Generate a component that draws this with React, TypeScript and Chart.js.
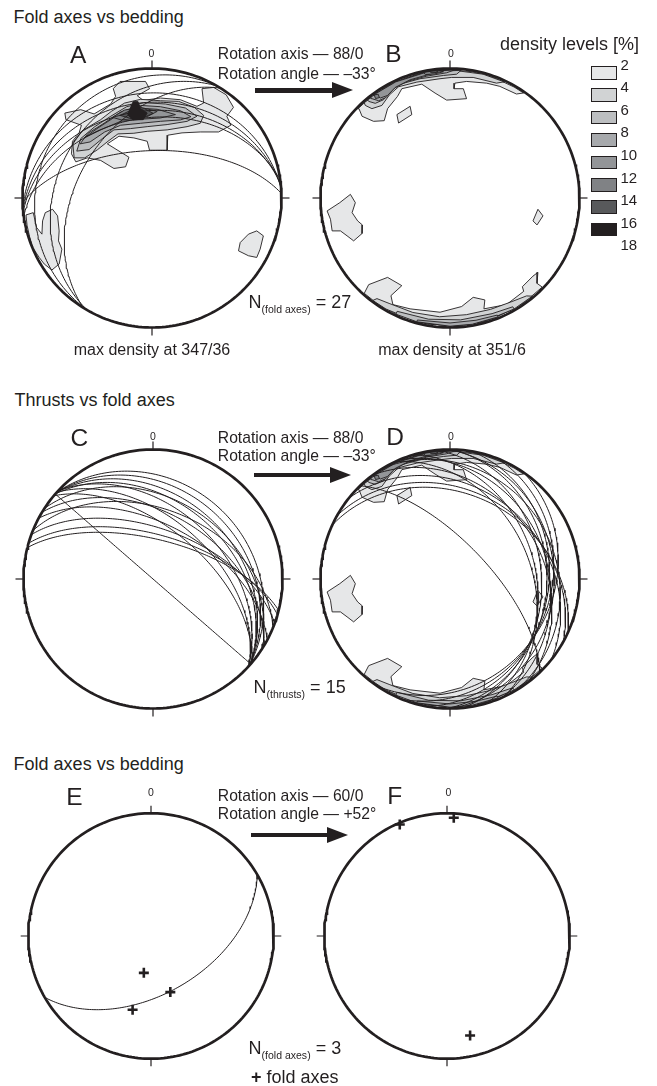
import React, { useEffect, useRef } from 'react';
import { Chart, registerables } from 'chart.js';

Chart.register(...registerables);

type P = [number, number];
type V = [number, number, number];
type Poly = { band: number; pts: P[] };

const FONT = '"Liberation Sans", Arial, Helvetica, sans-serif';
const INK = '#231f20';

// ---------------- data ----------------
const DENSITY_LABELS = ['2', '4', '6', '8', '10', '12', '14', '16', '18'];
const DENSITY_COLORS = ['#e6e7e8', '#d1d3d4', '#bcbec0', '#a7a9ac', '#939598', '#808285', '#58595b', '#231f20'];

// rotations quoted in the figure: axis trend/plunge, angle
const ROTATION_AB = { trend: 88, plunge: 0, angle: -33 };
const ROTATION_EF = { trend: 60, plunge: 0, angle: 52 };

// bedding great circles in A (dip direction, dip)
const BEDDING_A: P[] = [[358, 60], [356, 20], [355, 27], [354, 33], [352, 38], [300, 12], [300, 27], [302, 42]];

// thrust planes in C (dip direction, dip)
const THRUSTS_C: P[] = [
  [41, 90], [42, 26], [42, 31], [42, 36], [41, 40], [43, 45], [42, 52], [40, 58],
  [31, 48], [28, 55], [22, 45], [20, 58], [16, 62], [14, 65], [33, 38],
];

// bedding and fold axes in E
const BEDDING_E: P[] = [[150, 51]];
const FOLD_AXES_E: P[] = [[191, 65], [161, 50], [194, 38]]; // trend, plunge

// density contours of fold axes in A (east, north, % of radius)
const A_DENSITY: Poly[] = [
  { band: 0, pts: [[-29.9, 84.4], [-24.7, 90.0], [-5.0, 90.0], [-1.9, 84.4], [-11.4, 79.0], [-6.8, 75.4], [6.5, 77.2], [21.9, 75.9], [34.7, 70.8], [39.9, 73.3], [38.6, 84.4], [47.6, 85.4], [57.3, 79.7], [62.9, 70.0], [57.8, 63.1], [60.9, 56.2], [51.4, 51.0], [37.3, 51.0], [23.2, 50.3], [12.2, 48.5], [11.7, 36.9], [-1.9, 36.9], [-3.7, 43.8], [-14.0, 46.4], [-25.5, 47.7], [-34.5, 41.8], [-17.8, 31.5], [-20.4, 24.1], [-29.4, 22.8], [-39.6, 29.0], [-49.9, 31.0], [-58.8, 27.9], [-62.2, 34.1], [-61.4, 43.8], [-56.3, 50.3], [-54.5, 56.2], [-66.5, 60.5], [-67.3, 65.6], [-55.0, 68.2], [-44.7, 64.9], [-31.9, 72.6], [-28.1, 78.5]] },
  { band: 0, pts: [[-97.3, -13.1], [-91.7, -11.3], [-89.1, -22.8], [-85.0, -27.9], [-84.5, -17.7], [-82.4, -11.3], [-76.8, -8.7], [-72.9, -13.8], [-71.7, -25.4], [-72.2, -33.1], [-69.6, -39.5], [-71.7, -51.0], [-77.3, -55.6], [-83.2, -51.0], [-87.1, -45.9], [-92.2, -38.2], [-94.5, -30.0], [-96.5, -21.0]] },
  { band: 0, pts: [[68.1, -34.4], [74.5, -27.9], [80.9, -25.4], [86.0, -29.2], [83.5, -39.5], [80.9, -45.9], [74.5, -44.6], [66.8, -40.8]] },
  { band: 1, pts: [[-60.1, 31.0], [-61.2, 42.6], [-53.7, 52.1], [-39.6, 60.5], [-31.4, 66.9], [-21.2, 73.3], [-8.8, 76.2], [6.5, 75.1], [20.6, 74.6], [32.7, 70.0], [39.9, 63.8], [37.3, 57.7], [27.1, 55.1], [11.7, 52.6], [-3.7, 51.5], [-14.0, 50.0], [-26.3, 49.5], [-34.0, 43.8], [-42.2, 37.2], [-51.9, 31.0]] },
  { band: 2, pts: [[-58.1, 36.2], [-55.0, 45.9], [-44.2, 55.1], [-31.9, 63.1], [-19.6, 70.5], [-6.3, 73.6], [10.4, 72.6], [25.8, 69.5], [34.7, 63.1], [27.1, 59.2], [11.7, 56.7], [-3.7, 55.1], [-16.5, 53.6], [-29.4, 52.6], [-38.3, 45.9], [-48.6, 37.4]] },
  { band: 3, pts: [[-55.5, 41.8], [-49.4, 50.0], [-37.1, 57.7], [-24.2, 66.4], [-8.8, 71.5], [6.5, 70.5], [21.9, 67.4], [30.1, 62.8], [21.9, 60.3], [6.5, 59.2], [-8.8, 57.7], [-24.2, 56.2], [-36.5, 51.0], [-47.8, 43.3]] },
  { band: 4, pts: [[-52.4, 46.4], [-41.7, 54.1], [-26.8, 63.8], [-11.4, 69.5], [4.0, 68.5], [18.1, 64.4], [6.5, 61.8], [-8.8, 60.8], [-24.2, 59.2], [-39.6, 52.6]] },
  { band: 5, pts: [[-30.6, 62.3], [-21.2, 67.9], [-8.8, 70.0], [4.0, 66.9], [-3.7, 62.8], [-14.0, 61.3], [-23.7, 60.3]] },
  { band: 6, pts: [[-24.7, 63.8], [-16.0, 67.9], [-5.8, 69.0], [0.9, 65.4], [-6.3, 62.3], [-16.0, 61.3]] },
  { band: 7, pts: [[-17.8, 66.9], [-14.5, 74.6], [-10.9, 74.6], [-8.8, 69.0], [-3.7, 65.6], [-6.8, 60.5], [-14.5, 60.3], [-18.6, 64.1]] },
];

// density contours of fold axes after rotation (B and D)
const B_DENSITY: Poly[] = [
  { band: 0, pts: [[-71.2, 68.8], [-63.6, 75.8], [-49.5, 85.7], [-33.9, 93.0], [-17.2, 97.5], [0, 99], [17.2, 97.5], [33.9, 93.0], [49.5, 85.7], [56.8, 81.1], [51.3, 80.3], [38.5, 86.2], [28.2, 88.7], [12.8, 90.0], [3.8, 88.7], [3.1, 84.4], [10.3, 84.4], [12.8, 76.7], [-2.6, 75.6], [-11.5, 81.0], [-21.8, 87.9], [-37.2, 84.4], [-40.5, 78.5], [-48.2, 69.0], [-50.8, 59.7], [-59.0, 59.2], [-67.9, 63.1], [-70.3, 69.0]] },
  { band: 0, pts: [[-62.8, -66.9], [-48.2, -61.3], [-37.2, -67.7], [-45.6, -75.4], [-44.1, -82.3], [-30.8, -85.6], [-7.7, -88.2], [9.0, -83.8], [17.9, -76.7], [26.9, -78.7], [26.2, -85.6], [43.6, -82.3], [56.9, -72.1], [55.9, -68.5], [64.1, -60.3], [67.9, -57.4], [67.2, -65.9], [71.2, -68.8], [56.8, -81.1], [33.9, -93.0], [8.6, -98.6], [-17.2, -97.5], [-41.8, -89.7], [-56.8, -81.1], [-66.2, -73.6]] },
  { band: 0, pts: [[-94.9, -10.0], [-85.1, -3.6], [-76.9, 2.8], [-73.1, -3.6], [-75.6, -11.3], [-71.3, -17.7], [-67.7, -20.8], [-67.9, -27.4], [-74.4, -33.1], [-79.5, -29.2], [-84.6, -25.4], [-91.0, -25.4], [-92.3, -16.4]] },
  { band: 0, pts: [[64.1, -17.7], [67.9, -8.7], [71.8, -13.8], [67.2, -20.8]] },
  { band: 0, pts: [[-41.0, 64.4], [-30.8, 70.8], [-29.5, 64.4], [-39.7, 57.9]] },
  { band: 1, pts: [[-66.2, 73.6], [-49.5, 85.7], [-25.6, 95.6], [0, 99], [25.6, 95.6], [41.8, 89.7], [35.9, 88.7], [17.9, 93.1], [1.3, 93.1], [-7.7, 92.1], [-25.6, 89.5], [-39.7, 85.9], [-46.7, 79.7], [-52.6, 71.5], [-60.3, 69.0], [-65.4, 71.5]] },
  { band: 1, pts: [[63.6, -75.8], [49.5, -85.7], [25.6, -95.6], [0, -99], [-25.6, -95.6], [-49.5, -85.7], [-59.6, -79.1], [-56.4, -77.7], [-47.0, -81.4], [-28.7, -88.4], [-8.0, -91.7], [12.7, -90.1], [31.3, -86.0], [46.5, -80.5], [59.1, -75.6]] },
  { band: 2, pts: [[-63.6, 75.8], [-41.8, 89.7], [-17.2, 97.5], [8.6, 98.6], [5.1, 95.6], [-5.1, 94.6], [-23.1, 92.1], [-38.5, 87.9], [-46.2, 82.8], [-51.3, 75.9], [-57.7, 73.1], [-62.8, 74.6]] },
  { band: 2, pts: [[49.5, -85.7], [25.6, -95.6], [0, -99], [-25.6, -95.6], [-41.8, -89.7], [-40.8, -87.5], [-16.5, -93.6], [8.2, -94.1], [32.5, -89.3], [48.5, -84.0]] },
  { band: 3, pts: [[-61.0, 78.0], [-41.8, 89.7], [-17.2, 97.5], [3.5, 98.9], [-2.6, 96.7], [-17.9, 94.1], [-33.3, 90.0], [-43.6, 84.4], [-49.2, 77.7], [-55.1, 75.1], [-60.3, 76.7]] },
  { band: 3, pts: [[37.1, -91.8], [17.2, -97.5], [0, -99], [-25.6, -95.6], [-25.2, -94.2], [0, -96.5], [20.1, -94.4], [36.5, -90.4]] },
  { band: 4, pts: [[-58.2, 80.1], [-41.8, 89.7], [-17.2, 97.5], [-3.5, 98.9], [-12.8, 96.4], [-30.8, 91.3], [-42.3, 85.4], [-48.2, 79.2], [-53.8, 77.2]] },
  { band: 5, pts: [[-20.5, 97.0], [-10.3, 98.5], [-5.0, 97.5], [-12.0, 95.8], [-19.0, 95.3]] },
  { band: 5, pts: [[-58.5, 79.5], [-55.5, 80.2], [-54.5, 77.5], [-57.5, 76.8]] },
  { band: 6, pts: [[-16, 97.8], [-11, 98.4], [-9, 97.2], [-14, 96.6]] },
];

// ---------------- geometry helpers ----------------
const deg = Math.PI / 180;
const R_PX = 129.5;
const SIZE = 290;
const SPAN = SIZE / 2 / R_PX;
const TICK = 8 / R_PX;

function lineVec(trend: number, plunge: number): V {
  return [Math.cos(plunge * deg) * Math.cos(trend * deg), Math.cos(plunge * deg) * Math.sin(trend * deg), Math.sin(plunge * deg)];
}
function project(v: V) {
  let [n, e, d] = v;
  if (d < 0) { n = -n; e = -e; d = -d; }
  const k = 1 / Math.sqrt(1 + d);
  return { x: e * k, y: n * k };
}
function rotate(v: V, rot: { trend: number; plunge: number; angle: number }): V {
  const k = lineVec(rot.trend, rot.plunge);
  const th = -rot.angle * deg; // sign convention of the figure
  const c = Math.cos(th), s = Math.sin(th);
  const dot = k[0] * v[0] + k[1] * v[1] + k[2] * v[2];
  const cr: V = [k[1] * v[2] - k[2] * v[1], k[2] * v[0] - k[0] * v[2], k[0] * v[1] - k[1] * v[0]];
  return [0, 1, 2].map((i) => v[i] * c + cr[i] * s + k[i] * dot * (1 - c)) as V;
}
function poleOf(dd: number, dip: number): V {
  return [-Math.sin(dip * deg) * Math.cos(dd * deg), -Math.sin(dip * deg) * Math.sin(dd * deg), Math.cos(dip * deg)];
}
function planeOfPole(p: V): P {
  let [n, e, d] = p;
  if (d < 0) { n = -n; e = -e; d = -d; }
  const dip = Math.acos(Math.min(1, d)) / deg;
  const dd = (Math.atan2(e, n) / deg + 180 + 360) % 360;
  return [dd, dip];
}
function greatCircle(dd: number, dip: number) {
  const s: V = [Math.sin(dd * deg), -Math.cos(dd * deg), 0];
  const d: V = lineVec(dd, dip);
  const pts = [];
  for (let i = 0; i <= 120; i++) {
    const t = (i * 1.5) * deg;
    const v: V = [0, 1, 2].map((j) => Math.cos(t) * s[j] + Math.sin(t) * d[j]) as V;
    if (v[2] < 0) v[2] = 0;
    pts.push(project(v));
  }
  return pts;
}

const THRUSTS_D: P[] = THRUSTS_C.map(([dd, dip]) => planeOfPole(rotate(poleOf(dd, dip), ROTATION_AB)));
const FOLD_AXES_F = FOLD_AXES_E.map(([t, p]) => rotate(lineVec(t, p), ROTATION_AB === null ? ROTATION_EF : ROTATION_EF));

// ---------------- datasets ----------------
function lineDs(data: any[], width: number, extra: any = {}) {
  return { data, showLine: true, borderColor: INK, borderWidth: width, pointRadius: 0, fill: false, tension: 0, ...extra };
}

function buildDatasets(spec: { density?: Poly[]; planes?: P[]; axes?: V[] }) {
  const list: any[] = [];
  (spec.density || []).forEach((poly) => {
    const pts = poly.pts.map(([x, y]) => ({ x: x / 100, y: y / 100 }));
    pts.push(pts[0]);
    list.push(lineDs(pts, 0.9, { fill: 'shape', backgroundColor: DENSITY_COLORS[poly.band], borderJoinStyle: 'round' }));
  });
  (spec.planes || []).forEach(([dd, dip]) => list.push(lineDs(greatCircle(dd, dip), 1)));
  if (spec.axes && spec.axes.length) {
    list.push({
      data: spec.axes.map(project), showLine: false, pointStyle: 'cross', pointRadius: 5,
      pointBorderWidth: 2.6, pointBorderColor: INK, borderColor: INK, borderWidth: 2.6,
    });
  }
  const circle = [];
  for (let a = 0; a <= 360; a += 1.5) circle.push({ x: Math.sin(a * deg), y: Math.cos(a * deg) });
  list.push(lineDs(circle, 2.7));
  const ticks: [number, number][] = [[0, 1], [1, 0], [0, -1], [-1, 0]];
  ticks.forEach(([x, y]) => list.push(lineDs([{ x, y }, { x: x * (1 + TICK), y: y * (1 + TICK) }], 1.2)));
  const n = list.length;
  return list.map((ds, i) => ({ ...ds, order: n - i }));
}

function Stereonet({ cx, cy, spec }: { cx: number; cy: number; spec: any }) {
  const ref = useRef<HTMLCanvasElement>(null);
  useEffect(() => {
    if (!ref.current) return;
    const chart = new Chart(ref.current, {
      type: 'scatter',
      data: { datasets: buildDatasets(spec) },
      options: {
        animation: false,
        responsive: false,
        maintainAspectRatio: false,
        devicePixelRatio: 1,
        events: [],
        layout: { padding: 0 },
        plugins: { legend: { display: false }, tooltip: { enabled: false }, title: { display: false } },
        scales: {
          x: { type: 'linear', min: -SPAN, max: SPAN, display: false },
          y: { type: 'linear', min: -SPAN, max: SPAN, display: false },
        },
      } as any,
    });
    return () => chart.destroy();
  }, []);
  return (
    <canvas ref={ref} width={SIZE} height={SIZE}
      style={{ position: 'absolute', left: cx - SIZE / 2, top: cy - SIZE / 2, width: SIZE, height: SIZE }} />
  );
}

// ---------------- html helpers ----------------
function T({ x, y, size, children, center, bold }: any) {
  return (
    <div style={{
      position: 'absolute', left: x, top: y - size / 2, fontSize: size, lineHeight: `${size}px`,
      fontFamily: FONT, color: INK, whiteSpace: 'nowrap', fontWeight: bold ? 'bold' : 'normal',
      transform: center ? 'translateX(-50%)' : undefined,
    }}>{children}</div>
  );
}

function Arrow({ x1, x2, y }: { x1: number; x2: number; y: number }) {
  const head = 21.6;
  return (
    <>
      <div style={{ position: 'absolute', left: x1, top: y - 2.3, width: x2 - head - x1 + 2, height: 4.6, background: INK }} />
      <div style={{
        position: 'absolute', left: x2 - head, top: y - 8.5, width: 0, height: 0,
        borderLeft: `${head}px solid ${INK}`, borderTop: '8.5px solid transparent', borderBottom: '8.5px solid transparent',
      }} />
    </>
  );
}

function NLabel({ x, y, sub, value }: any) {
  return (
    <T x={x} y={y} size={18}>
      N<span style={{ fontSize: 10.5, position: 'relative', top: 5 }}>({sub})</span> = {value}
    </T>
  );
}

function RotationText({ y1, y2, axis, angle }: any) {
  return (
    <>
      <T x={217.8} y={y1} size={15.7}>Rotation axis — {axis}</T>
      <T x={217.8} y={y2} size={15.7}>Rotation angle — {angle}</T>
    </>
  );
}

export default function App() {
  return (
    <div style={{ position: 'absolute', left: 0, top: 0, width: 657, height: 1086, background: '#ffffff', overflow: 'hidden' }}>
      <Stereonet cx={151.5} cy={197.5} spec={{ density: A_DENSITY, planes: BEDDING_A }} />
      <Stereonet cx={450.2} cy={197.5} spec={{ density: B_DENSITY }} />
      <Stereonet cx={153} cy={579} spec={{ planes: THRUSTS_C }} />
      <Stereonet cx={449.7} cy={578.5} spec={{ density: B_DENSITY, planes: THRUSTS_D }} />
      <Stereonet cx={150.5} cy={935.5} spec={{ planes: BEDDING_E, axes: FOLD_AXES_E.map(([t, p]) => lineVec(t, p)) }} />
      <Stereonet cx={447.3} cy={935.5} spec={{ axes: FOLD_AXES_F }} />

      {/* section 1 */}
      <T x={13.6} y={17} size={18}>Fold axes vs bedding</T>
      <T x={70} y={55} size={24.5}>A</T>
      <T x={385.3} y={54.5} size={24.5}>B</T>
      <T x={151.5} y={53.7} size={10.5} center>0</T>
      <T x={450.8} y={53.7} size={10.5} center>0</T>
      <RotationText y1={54.2} y2={74} axis="88/0" angle="–33°" />
      <Arrow x1={255} x2={353.3} y={90.7} />
      <NLabel x={248.6} y={301.7} sub="fold axes" value="27" />
      <T x={152} y={350} size={16} center>max density at 347/36</T>
      <T x={452} y={350} size={16} center>max density at 351/6</T>

      {/* legend */}
      <T x={500} y={44.3} size={18}>density levels [%]</T>
      {DENSITY_COLORS.map((c, i) => (
        <div key={c} style={{
          position: 'absolute', left: 590.5, top: 66 + i * 22.4, width: 24, height: 11.5,
          background: c, border: `1.2px solid ${INK}`,
        }} />
      ))}
      {DENSITY_LABELS.map((l, i) => (
        <T key={l} x={620.5} y={64 + i * 22.6} size={15}>{l}</T>
      ))}

      {/* section 2 */}
      <T x={14.6} y={400} size={18}>Thrusts vs fold axes</T>
      <T x={70.5} y={438.7} size={24.5}>C</T>
      <T x={386.3} y={437.5} size={24.5}>D</T>
      <T x={153} y={436.3} size={10.5} center>0</T>
      <T x={450.8} y={436.3} size={10.5} center>0</T>
      <RotationText y1={437.5} y2={455.8} axis="88/0" angle="–33°" />
      <Arrow x1={254} x2={351.7} y={475.2} />
      <NLabel x={253.6} y={686.7} sub="thrusts" value="15" />

      {/* section 3 */}
      <T x={13.6} y={763.7} size={18}>Fold axes vs bedding</T>
      <T x={66.3} y={797} size={24.5}>E</T>
      <T x={387.3} y={796.3} size={24.5}>F</T>
      <T x={151} y={792} size={10.5} center>0</T>
      <T x={448.3} y={792} size={10.5} center>0</T>
      <RotationText y1={795.8} y2={814.2} axis="60/0" angle="+52°" />
      <Arrow x1={250.7} x2={348.3} y={835.2} />
      <NLabel x={248.6} y={1048.3} sub="fold axes" value="3" />
      <T x={251} y={1077} size={18}><b>+</b> fold axes</T>
    </div>
  );
}
